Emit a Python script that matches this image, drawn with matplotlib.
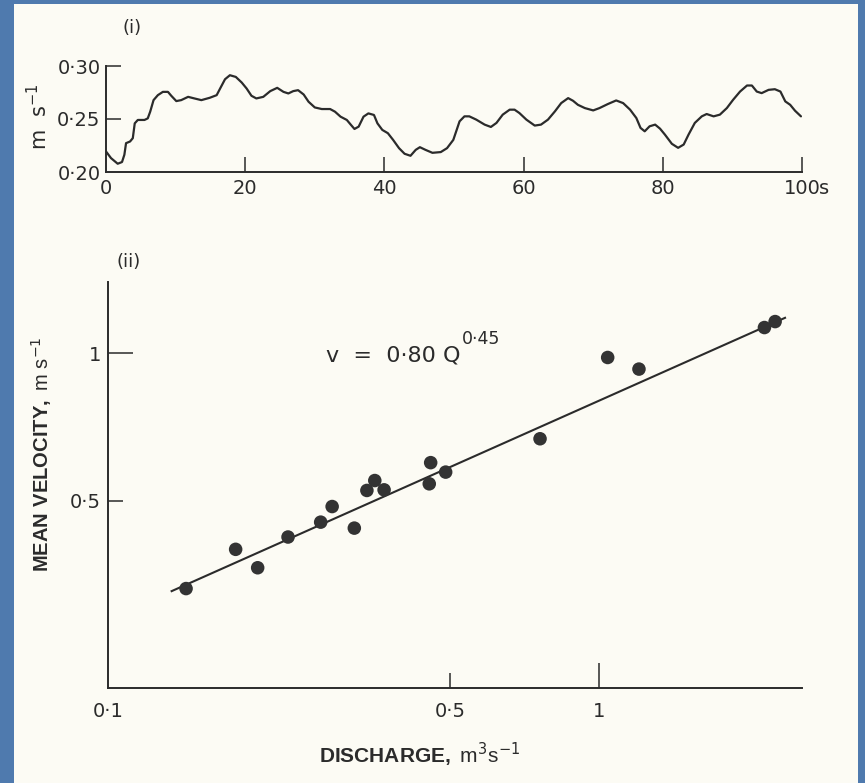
import matplotlib
matplotlib.use("Agg")
import numpy as np
import matplotlib.pyplot as plt
from matplotlib.patches import Rectangle

plt.rcParams['font.family'] = ['DejaVu Sans']
plt.rcParams['mathtext.fontset'] = 'custom'
plt.rcParams['mathtext.rm'] = 'DejaVu Sans'
plt.rcParams['mathtext.bf'] = 'Liberation Sans:bold'
plt.rcParams['mathtext.it'] = 'DejaVu Sans'

# (i) velocity record
t_sec = [0, 0.72, 1.68, 2.3, 2.64, 2.88, 3.46, 3.85, 4.13, 4.57, 5.53, 6.0, 6.35,
         6.83, 7.45, 8.17, 8.9, 9.38, 10.1, 10.8, 11.8, 12.7, 13.7, 14.9, 15.9,
         16.4, 17.1, 17.8, 18.65, 19.5, 20.2, 20.9, 21.6, 22.6, 23.6, 24.6, 25.5,
         26.2, 26.9, 27.6, 28.4, 29.1, 30.0, 31.0, 32.2, 32.9, 33.7, 34.6, 35.2,
         35.7, 36.3, 37.0, 37.7, 38.5, 39.0, 39.7, 40.5, 41.25, 42.1, 42.9, 43.75,
         44.5, 45.1, 45.9, 46.9, 48.1, 49.0, 49.9, 50.4, 50.8, 51.5, 52.2, 53.2,
         54.4, 55.3, 56.1, 57.0, 58.0, 58.7, 59.4, 60.4, 61.6, 62.5, 63.5, 64.5,
         65.4, 66.4, 67.1, 67.8, 68.8, 70.0, 70.9, 72.1, 73.3, 74.3, 75.3, 76.2,
         76.8, 77.4, 78.1, 78.9, 79.6, 80.3, 81.3, 82.2, 83.0, 83.7, 84.6, 85.6,
         86.3, 87.3, 88.2, 89.2, 90.1, 91.1, 92.1, 92.8, 93.5, 94.2, 95.2, 96.1,
         96.9, 97.6, 98.3, 99.0, 99.85]
vel = [0.2194, 0.2131, 0.2078, 0.2094, 0.2163, 0.2272, 0.2288, 0.2319, 0.2459,
       0.2491, 0.2491, 0.2506, 0.2569, 0.2678, 0.2725, 0.2756, 0.2756, 0.2719,
       0.2669, 0.2678, 0.2709, 0.2694, 0.2678, 0.2700, 0.2725, 0.2788, 0.2875,
       0.2913, 0.2897, 0.2844, 0.2788, 0.2719, 0.2694, 0.2709, 0.2763, 0.2794,
       0.2756, 0.2741, 0.2763, 0.2772, 0.2731, 0.2663, 0.2609, 0.2594, 0.2594,
       0.2569, 0.2522, 0.2491, 0.2444, 0.2406, 0.2428, 0.2522, 0.2553, 0.2538,
       0.2459, 0.2397, 0.2366, 0.2303, 0.2225, 0.2172, 0.2153, 0.2209, 0.2234,
       0.2209, 0.2181, 0.2188, 0.2225, 0.2303, 0.2400, 0.2478, 0.2525, 0.2525,
       0.2494, 0.2447, 0.2425, 0.2463, 0.2541, 0.2588, 0.2588, 0.2556, 0.2494,
       0.2438, 0.2447, 0.2494, 0.2572, 0.2650, 0.2697, 0.2672, 0.2634, 0.2603,
       0.2581, 0.2603, 0.2641, 0.2675, 0.2650, 0.2588, 0.2509, 0.2416, 0.2384,
       0.2431, 0.2447, 0.2409, 0.2353, 0.2266, 0.2228, 0.2259, 0.2353, 0.2463,
       0.2525, 0.2547, 0.2525, 0.2541, 0.2603, 0.2681, 0.2759, 0.2816, 0.2816,
       0.2759, 0.2744, 0.2775, 0.2781, 0.2759, 0.2666, 0.2634, 0.2578, 0.2525]

# (ii) discharge vs mean velocity
discharge = [0.1465, 0.1845, 0.2044, 0.2354, 0.274, 0.289, 0.3204, 0.3397,
             0.3524, 0.368, 0.454, 0.457, 0.49, 0.760, 1.041, 1.204, 2.158, 2.268]
mean_vel = [0.331, 0.398, 0.365, 0.4217, 0.4522, 0.4866, 0.4397, 0.5248,
            0.5498, 0.5263, 0.5414, 0.598, 0.572, 0.669, 0.980, 0.928, 1.128, 1.160]
fit_q = [0.137, 2.375]
fit_coef = 0.80
fit_exp = 0.45

W, H = 865, 783
ink = '#2b2b2b'
lab = ['Liberation Sans', 'DejaVu Sans']


def fx(px):
    return px / W


def fy(py):
    return 1 - py / H


fig = plt.figure(figsize=(W / 100, H / 100), dpi=100)
fig.patch.set_facecolor('#4f7aae')
fig.patches.append(Rectangle((fx(14), 0), fx(858) - fx(14), fy(4), transform=fig.transFigure,
                             facecolor='#fcfbf4', edgecolor='none', zorder=-5))

# top panel
ax1 = fig.add_axes([fx(106), fy(172), fx(802) - fx(106), fy(66) - fy(172)])
ax1.set_zorder(2)
ax1.set_facecolor('none')
ax1.plot(t_sec, vel, color=ink, lw=1.6, solid_joinstyle='round', solid_capstyle='round')
ax1.set_xlim(0, 100)
ax1.set_ylim(0.20, 0.30)
for s in ['top', 'right']:
    ax1.spines[s].set_visible(False)
for s in ['left', 'bottom']:
    ax1.spines[s].set_linewidth(1.4)
    ax1.spines[s].set_color(ink)
ax1.set_xticks([0, 20, 40, 60, 80, 100])
ax1.set_xticklabels(['0', '20', '40', '60', '80', '100'])
ax1.set_yticks([0.20, 0.25, 0.30])
ax1.set_yticklabels(['0·20', '0·25', '0·30'])
ax1.tick_params(direction='in', length=11, width=1.1, color=ink, labelsize=14,
                labelcolor=ink)
ax1.tick_params(axis='x', pad=5)
ax1.tick_params(axis='y', pad=4)
ax1.xaxis.get_major_ticks()[0].tick1line.set_markersize(0)
ax1.yaxis.get_major_ticks()[0].tick1line.set_markersize(0)
ax1.annotate('s', xy=(100, 0.20), xytext=(12, -5), textcoords='offset points',
             ha='left', va='top', fontsize=14, color=ink, annotation_clip=False)
fig.text(fx(39), fy(117), r'm  s$^{-1}$', rotation=90, ha='center', va='center',
         fontsize=15, color=ink)
fig.text(fx(132), fy(28), '(i)', ha='center', va='center', fontsize=13, color=ink)

# bottom panel
ax2 = fig.add_axes([fx(108), fy(688), fx(802) - fx(108), fy(282) - fy(688)])
ax2.set_zorder(2)
ax2.set_facecolor('none')
ax2.set_xscale('log')
ax2.set_yscale('log')
ax2.set_xlim(0.1019, 2.57)
ax2.set_ylim(0.2075, 1.397)
ax2.scatter(discharge, mean_vel, s=95, color='#333333', edgecolors='none', zorder=3)
fq = np.array(fit_q)
ax2.plot(fq, fit_coef * fq ** fit_exp, color=ink, lw=1.5, zorder=2)
for s in ['top', 'right']:
    ax2.spines[s].set_visible(False)
for s in ['left', 'bottom']:
    ax2.spines[s].set_linewidth(1.4)
    ax2.spines[s].set_color(ink)
ax2.xaxis.set_minor_locator(matplotlib.ticker.NullLocator())
ax2.yaxis.set_minor_locator(matplotlib.ticker.NullLocator())
ax2.set_xticks([0.1019, 0.5, 1])
ax2.set_xticklabels(['0·1', '0·5', '1'])
ax2.set_yticks([0.5, 1])
ax2.set_yticklabels(['0·5', '1'])
ax2.tick_params(direction='in', width=1.1, color=ink, labelsize=14, labelcolor=ink)
ax2.tick_params(axis='x', pad=10)
ax2.tick_params(axis='y', pad=5)
xt = ax2.xaxis.get_major_ticks()
for tk, ln in zip(xt, [0, 11, 18]):
    tk.tick1line.set_markersize(ln)
yt = ax2.yaxis.get_major_ticks()
for tk, ln in zip(yt, [11, 18]):
    tk.tick1line.set_markersize(ln)

fig.text(fx(326), fy(362), 'v  =  0·80 Q', ha='left', va='baseline', fontsize=16, color=ink)
fig.text(fx(462), fy(344), '0·45', ha='left', va='baseline', fontsize=12.5, color=ink)
fig.text(fx(129), fy(262), '(ii)', ha='center', va='center', fontsize=13, color=ink)
fig.text(fx(42), fy(454), r'$\mathbf{MEAN\ VELOCITY,}$ m s$^{-1}$', rotation=90,
         ha='center', va='center', fontsize=14.5, color=ink, family=lab)
fig.text(fx(420), fy(755), r'$\mathbf{DISCHARGE,}$ m$^{3}$s$^{-1}$', ha='center',
         va='center', fontsize=15, color=ink, family=lab)

fig.savefig('out.png', dpi=100, facecolor=fig.get_facecolor())
